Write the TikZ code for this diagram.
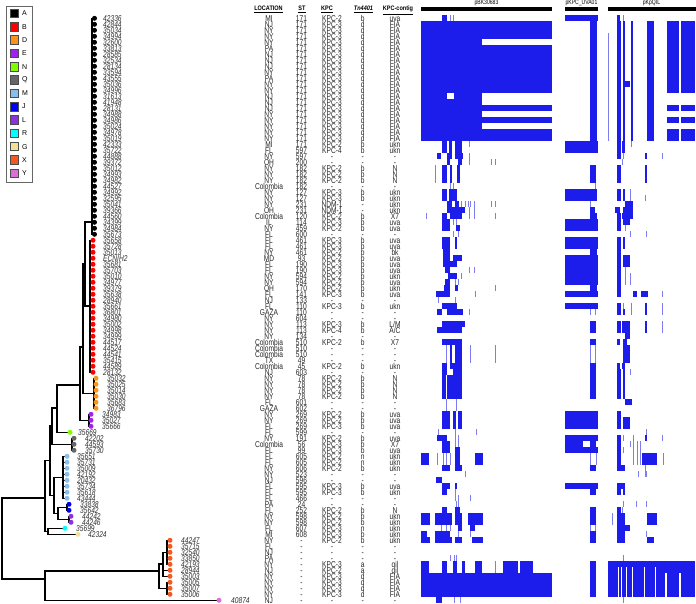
\documentclass[tikz,border=0pt]{standalone}
\usepackage{fontspec}
\newfontfamily\cnd[FakeStretch=0.78]{Liberation Sans}
\newfontfamily\cndh[FakeStretch=0.85]{Liberation Sans}
\newfontfamily\lsans{Liberation Sans}
\definecolor{cA}{RGB}{0,0,0}
\definecolor{cB}{RGB}{255,0,0}
\definecolor{cD}{RGB}{247,147,30}
\definecolor{cE}{RGB}{160,32,240}
\definecolor{cN}{RGB}{127,255,0}
\definecolor{cQ}{RGB}{102,102,102}
\definecolor{cM}{RGB}{135,190,235}
\definecolor{cJ}{RGB}{0,0,240}
\definecolor{cL}{RGB}{140,50,220}
\definecolor{cR}{RGB}{0,255,255}
\definecolor{cG}{RGB}{240,225,150}
\definecolor{cX}{RGB}{242,90,34}
\definecolor{cY}{RGB}{218,112,214}
\definecolor{hmc}{RGB}{28,28,235}
\definecolor{hmt}{RGB}{125,125,240}
\definecolor{tipgray}{RGB}{50,50,50}
\newcommand\sLM{L/M}
\newcommand\sAC{A/C}
\newcommand\hmb[4]{\fill[hmc] (#3,{6*#1+9.3}) rectangle (#4,{6*#2+15.3});}
\newcommand\hml[3]{\fill[hmt] ({#3-0.45},{6*#1+9.3}) rectangle ({#3+0.45},{6*#2+15.3});}
\newcommand\hmls[3]{\foreach \q in {#3}{\hml{#1}{#2}{\q}}}
\newcommand\tipgrp[5]{%
  \foreach \i/\lab in {#5}{\coordinate (c\i) at (#2,{12.3+6*\i}); \draw[br] (#1) |- (c\i);}
  \foreach \i/\lab in {#5}{\node[dot,fill=#4] (t\i) at (c\i) {}; \node[tiplab] (l\i) at (#3,{15.3+6*\i}) {\lab};}}
\begin{document}
\begin{tikzpicture}[x=1pt,y={(0pt,-1pt)},
  br/.style={line width=1.2pt,black},
  dot/.style={circle,inner sep=0pt,minimum size=5pt,draw=none},
  tiplab/.style={font=\cnd\itshape\fontsize{8.5}{8}\selectfont,text=tipgray,inner sep=0pt,anchor=base west},
  tc/.style={font=\cnd\fontsize{8.5}{8}\selectfont,text=black!85,inner sep=0pt,anchor=base},
  hd/.style={font=\cndh\bfseries\fontsize{6.5}{7}\selectfont,inner sep=0pt,anchor=base},
  ph/.style={font=\cnd\fontsize{6.5}{7}\selectfont,inner sep=0pt,anchor=base},
  bar/.style={line width=3.2pt,black},
  legsq/.style={draw=black!70,line width=0.7pt,minimum size=8.5pt,inner sep=0pt},
  legtx/.style={font=\lsans\fontsize{7}{7}\selectfont,inner sep=0pt,anchor=west}]
\useasboundingbox (0,0) rectangle (696,604);
\fill[white] (0,0) rectangle (696,604);

% ---------- legend ----------
\draw[black!60,line width=0.7pt] (6,6) rectangle (32,182);
\foreach \k/\c [count=\n from 0] in {A/cA,B/cB,D/cD,E/cE,N/cN,Q/cQ,M/cM,J/cJ,L/cL,R/cR,G/cG,X/cX,Y/cY}{
  \node[legsq,fill=\c] (lg\k) at (14.5,{13.3+13.33*\n}) {};
  \node[legtx] (lt\k) at (22,{13.3+13.33*\n}) {\k};}

% ---------- tree internal nodes ----------
\coordinate (nA) at (92,222);
\coordinate (nB) at (90,306);
\coordinate (nAB) at (85,264);
\coordinate (nD) at (94,393.3);
\coordinate (nABD) at (83,347);
\coordinate (nE) at (89,420.3);
\coordinate (nABDE) at (80,385);
\coordinate (nNA) at (57,408);
\coordinate (nQ) at (72,444.3);
\coordinate (nW) at (52,426);
\coordinate (nM) at (63,477.3);
\coordinate (nJ) at (67,507.3);
\coordinate (nL) at (69,519.3);
\coordinate (nJL) at (58,513.3);
\coordinate (nMJL) at (54,495.3);
\coordinate (nV) at (50,460.7);
\coordinate (nGR) at (48,531.3);
\coordinate (nU) at (45,498);
\coordinate (nXa) at (167,552.3);
\coordinate (nXb) at (163,564);
\coordinate (nXc) at (167,588.3);
\coordinate (nX) at (159,571);
\coordinate (nLow) at (45,579);
\coordinate (root) at (2,538);

\draw[br] (nAB) |- (nA);
\draw[br] (nAB) |- (nB);
\draw[br] (nABD) |- (nAB);
\draw[br] (nABD) |- (nD);
\draw[br] (nABDE) |- (nABD);
\draw[br] (nABDE) |- (nE);
\draw[br] (nNA) |- (nABDE);
\draw[br] (nW) |- (nNA);
\draw[br] (nW) |- (nQ);
\draw[br] (nJL) |- (nJ);
\draw[br] (nJL) |- (nL);
\draw[br] (nMJL) |- (nM);
\draw[br] (nMJL) |- (nJL);
\draw[br] (nV) |- (nW);
\draw[br] (nV) |- (nMJL);
\draw[br] (nU) |- (nV);
\draw[br] (nU) |- (nGR);
\draw[br] (nXb) |- (nXa);
\draw[br] (nX) |- (nXb);
\draw[br] (nX) |- (nXc);
\draw[br] (nLow) |- (nX);
\draw[br] (root) |- (nU);
\draw[br] (root) |- (nLow);

% ---------- tips ----------
\tipgrp{nA}{94.5}{103}{cA}{1/42336,2/42844,3/35034,4/34994,5/32600,6/33813,7/28585,8/32534,9/28134,10/33594,11/43555,12/35036,13/34996,14/31613,15/41948,16/28131,17/34988,18/34986,19/35024,20/34978,21/35019,22/42333,23/35722,24/44888,25/39372,26/35012,27/34993,28/34982,29/44527,30/34992,31/32595,32/35041,33/39366,34/44560,35/34399,36/34984,37/35673}
\tipgrp{nB}{93}{103}{cB}{38/35658,39/35728,40/35013,41/ECNIH2,42/35681,43/35703,44/35010,45/34977,46/39379,47/35638,48/28940,49/35661,50/36801,51/34980,52/35002,53/34998,54/34999,55/44517,56/44524,57/44541,58/35415,59/44589,60/28132}
\tipgrp{nD}{96}{107}{cD}{61/35032,62/35025,63/35014,64/35030,65/35683,66/36796}
\tipgrp{nE}{91}{102}{cE}{67/34983,68/35027,69/35666}
\tipgrp{nNA}{70}{78}{cN}{70/35669}
\tipgrp{nQ}{74}{85}{cQ}{71/42202,72/44593,73/35730}
\tipgrp{nM}{67}{77}{cM}{74/35651,75/35731,76/35009,77/42192,78/20432,79/35734,80/35618,81/43444}
\tipgrp{nJ}{69}{80}{cJ}{82/33838,83/35642}
\tipgrp{nL}{71}{82}{cL}{84/44242,85/44246}
\tipgrp{nGR}{65}{76}{cR}{86/35699}
\tipgrp{nGR}{78}{88}{cG}{87/42324}
\tipgrp{nXa}{170}{181}{cX}{88/44247,89/35715,90/32540,91/33850,92/42193}
\tipgrp{nXb}{170}{181}{cX}{93/28944,94/35003}
\tipgrp{nXc}{170}{181}{cX}{95/35005,96/35007,97/35006}
\tipgrp{nLow}{219}{231}{cY}{98/40874}

% ---------- table headers ----------
\node[hd] (hLoc) at (268.5,11) {\underline{LOCATION}};
\node[hd] (hST) at (302,11) {\underline{ST}};
\node[hd] (hKPC) at (327,11) {\underline{KPC}};
\node[hd] (hTn) at (363.5,11) {\underline{\itshape Tn4401}};
\node[hd] (hCt) at (398,11) {\underline{KPC-contig}};

% ---------- table rows ----------
\foreach \i/\vlc/\vst/\vkp/\vtn/\vct in {
1/MI/171/KPC-2/b/uva,2/NJ/171/KPC-3/d/FIA,3/NY/171/KPC-3/d/FIA,4/NY/171/KPC-3/d/FIA,5/NY/171/KPC-3/d/FIA,
6/PA/171/KPC-3/d/FIA,7/NJ/171/KPC-3/d/FIA,8/NJ/171/KPC-3/d/FIA,9/NJ/171/KPC-3/d/FIA,10/NY/171/KPC-3/d/FIA,
11/PA/171/KPC-3/d/FIA,12/NY/171/KPC-3/d/FIA,13/NY/171/KPC-3/d/FIA,14/NJ/171/KPC-3/d/FIA,15/NJ/171/KPC-3/d/FIA,
16/NJ/171/KPC-3/d/FIA,17/NY/171/KPC-3/d/FIA,18/NY/171/KPC-3/d/FIA,19/NY/171/KPC-3/d/FIA,20/NY/171/KPC-3/d/FIA,
21/NY/171/KPC-3/d/FIA,22/MI/171/KPC-2/b/ukn,23/FL/597/KPC-4/b/ukn,24/NY/597/-/-/-,25/OH/200/-/-/-,
26/NY/182/KPC-2/b/N,27/NY/182/KPC-2/b/N,28/NY/182/KPC-2/b/N,29/Colombia/182/-/-/-,30/NY/127/KPC-3/b/ukn,
31/NY/127/KPC-3/b/ukn,32/NY/231/NDM-1/-/ukn,33/OH/231/NDM-1/-/ukn,34/Colombia/120/KPC-2/b/X7,35/IL/114/KPC-3/b/uva,
36/NY/459/KPC-2/b/uva,37/FL/600/-/-/-,38/FL/461/KPC-3/b/uva,39/FL/461/KPC-3/b/uva,40/NY/461/KPC-2/b/bk,
41/MD/93/KPC-2/b/uva,42/FL/190/KPC-3/b/uva,43/FL/190/KPC-3/b/uva,44/NY/594/KPC-2/b/ukn,45/NY/594/KPC-2/b/uva,
46/OH/170/KPC-2/b/ukn,47/FL/141/KPC-3/b/uva,48/NJ/133/-/-/-,49/FL/110/KPC-3/b/ukn,50/GAZA/110/-/-/-,
51/NY/604/-/-/-,52/NY/113/KPC-3/b/\sLM,53/NY/113/KPC-4/b/\sAC,54/NY/134/-/-/-,55/Colombia/510/KPC-2/b/X7,
56/Colombia/510/-/-/-,57/Colombia/510/-/-/-,58/TX/49/-/-/-,59/Colombia/45/KPC-2/b/ukn,60/NJ/603/-/-/-,
61/NY/78/KPC-2/b/N,62/NY/78/KPC-2/b/N,63/NY/78/KPC-2/b/N,64/NY/78/KPC-2/b/N,65/FL/601/-/-/-,
66/GAZA/602/-/-/-,67/NY/269/KPC-2/b/uva,68/NY/269/KPC-2/b/uva,69/FL/269/KPC-3/b/uva,70/FL/599/-/-/-,
71/NY/191/KPC-2/b/uva,72/Colombia/56/KPC-3/b/X7,73/FL/99/KPC-3/b/uva,74/FL/605/KPC-2/n/ukn,75/FL/605/KPC-2/n/ukn,
76/NY/606/KPC-2/b/ukn,77/NY/523/-/-/-,78/NJ/596/-/-/-,79/FL/595/KPC-3/b/uva,80/FL/595/KPC-3/b/ukn,
81/FL/466/-/-/-,82/PA/24/-/-/-,83/FL/252/KPC-2/b/N,84/NY/598/KPC-2/b/ukn,85/NY/598/KPC-2/b/ukn,
86/FL/607/KPC-3/n/ukn,87/MI/608/KPC-3/b/ukn,88/NY/-/KPC-2/b/ukn,89/FL/-/-/-/-,90/NJ/-/-/-/-,
91/PA/-/-/-/-,92/NY/-/KPC-3/a/qil,93/NJ/-/KPC-2/a/qil,94/NY/-/KPC-3/d/FIA,95/NY/-/KPC-3/d/FIA,
96/NY/-/KPC-3/d/FIA,97/NY/-/KPC-3/d/FIA,98/NJ/-/-/-/-}{
  \node[tc] (lo\i) at (269,{15.3+6*\i}) {\vlc};
  \node[tc] (st\i) at (301.5,{15.3+6*\i}) {\vst};
  \node[tc] (kp\i) at (332,{15.3+6*\i}) {\vkp};
  \node[tc] (tn\i) at (362.7,{15.3+6*\i}) {\vtn};
  \node[tc] (ct\i) at (395,{15.3+6*\i}) {\vct};
}

% ---------- heatmap headers ----------
\node[ph] (hBK) at (486.5,4.8) {pBK30683};
\node[ph] (hUVA) at (581.5,4.8) {pKPC\_UVA01};
\node[ph] (hQIL) at (651.5,4.8) {pKpQIL};
\coordinate (bk1) at (421,9); \coordinate (bk2) at (552,9);
\coordinate (uv1) at (565,9); \coordinate (uv2) at (598.3,9);
\coordinate (ql1) at (608,9); \coordinate (ql2) at (695.5,9);
\draw[bar] (bk1) -- (bk2);
\draw[bar] (uv1) -- (uv2);
\draw[bar] (ql1) -- (ql2);

% ---------- heatmap ----------
% row 1
\hmb{1}{1}{441.7}{446.7}\hmls{1}{1}{450,453.3}
\hmb{1}{1}{565}{598.3}
\hmb{1}{1}{616.7}{620}\hml{1}{1}{623.3}
% rows 2-21
\hmb{2}{21}{421}{482.3}
\foreach \a/\b in {2/4,6/13,16/16,18/18,20/21}{\hmb{\a}{\b}{482.3}{551.7}}
\fill[white] (446.7,{6*14+9.3}) rectangle (454,{6*14+15.3});
\hmb{2}{21}{590}{597}
\hml{4}{21}{608.5}
\hmb{2}{21}{616.7}{620.7}\hmb{2}{21}{623.3}{625}\hmb{2}{21}{631}{632.7}\hmb{2}{21}{646.7}{654}
\hmb{12}{12}{623.3}{630}
\foreach \a/\b in {2/13,16/16,18/18,20/21}{\hmb{\a}{\b}{666.7}{679}\hmb{\a}{\b}{681}{695}}
% rows 22-23
\hmb{22}{23}{441.7}{446.7}\hmb{22}{23}{449.3}{451.7}\hmb{22}{23}{455}{461.7}\hml{22}{22}{469.3}
\hmb{22}{23}{565}{598.3}
\hmb{22}{23}{616.7}{620.7}\hmb{22}{23}{621.7}{625}\hml{22}{22}{631.7}
% row 24
\hmb{24}{24}{437.3}{440.7}\hmb{24}{24}{446.7}{451.7}\hmb{24}{24}{455}{463.3}\hml{24}{24}{469.3}
\hmb{24}{24}{616.7}{620.7}\hml{24}{24}{623.3}\hmb{24}{24}{645}{647.3}\hml{24}{24}{662.7}
% row 25
\hmb{25}{25}{446.7}{450}\hmb{25}{25}{458.3}{461.7}\hmls{25}{25}{469.3,491.7,495,622}
% rows 26-28
\hmb{26}{28}{441.7}{446.7}\hmb{26}{28}{450}{451.7}\hmb{26}{28}{456.7}{460}\hml{26}{28}{435}
\hmb{26}{28}{590}{595.7}
\hmb{26}{28}{616.7}{620.7}\hmb{26}{28}{645}{646.7}
% row 29
\hmls{29}{29}{450,453.3,595}
% rows 30-31
\hmb{30}{31}{441.7}{446.7}\hmb{30}{31}{449.3}{456.7}
\hmb{30}{31}{565}{597}
\hmb{30}{31}{616.7}{620.7}\hmb{30}{31}{623.3}{625}\hml{30}{31}{630}\hml{31}{31}{645}
% row 32
\hmb{32}{32}{446.7}{452}\hmb{32}{32}{455}{459}\hmls{32}{32}{461.7,465,468.3,470,474,491.7,495,590}
\hmb{32}{32}{625}{632.7}
% row 33
\hmb{33}{33}{446.7}{465}\hmls{33}{33}{469.3,474}\hmb{33}{33}{590}{595}
\hmb{33}{33}{615}{620}\hmb{33}{33}{623.3}{632.7}
% row 34
\hmls{34}{34}{426,469.3,474,495}\hmb{34}{34}{441.7}{446.7}\hmb{34}{34}{450}{461.7}
\hmb{34}{34}{590}{596.7}
\hmb{34}{34}{616.7}{620.7}\hmb{34}{34}{621.7}{632.7}
% rows 35-36
\hmb{35}{36}{441.7}{450}\hmls{35}{35}{453.3,456.7}\hmb{36}{36}{456}{460}
\hmb{35}{36}{565}{598.3}
\hmb{35}{36}{616.7}{620.7}\hmb{35}{35}{622.7}{630}\hml{36}{36}{625}
% row 37
\hmls{37}{37}{453.3,458.3,630,646}
% rows 38-47
\hmb{38}{39}{441.7}{450}\hmb{38}{39}{455}{457}
\hmb{40}{40}{443.3}{450}
\hmb{41}{41}{443.3}{450}\hmb{41}{41}{453.3}{461.7}
\hmb{42}{42}{443.3}{456.7}
\hmb{43}{43}{445}{450}\hmls{43}{43}{469.3,474}
\hmb{44}{44}{448.3}{456.7}\hml{44}{44}{461.7}
\hmb{45}{45}{445}{450}\hmls{45}{45}{455,458.3}
\hmb{46}{46}{444.3}{450}\hmb{46}{46}{455}{458.3}\hml{46}{46}{495}
\hmb{47}{47}{436}{450}\hml{47}{47}{475}
\hmb{38}{39}{565}{598.3}\hmb{40}{40}{590}{596.7}\hmb{41}{45}{565}{598.3}\hmb{46}{46}{590}{596.7}\hmb{47}{47}{565}{598.3}
\hmb{38}{47}{616.7}{620.7}\hmb{38}{39}{622.7}{625}\hmb{41}{42}{622.7}{630}\hml{43}{45}{625}\hml{44}{45}{630}
\hmb{47}{47}{633.3}{637.3}\hmb{47}{47}{641}{647.7}\hml{47}{47}{662.7}
% row 48
\hmls{48}{48}{438.3,455}
% row 49
\hmb{49}{49}{441.7}{457}\hmb{49}{49}{565}{598.3}
\hmb{49}{49}{616.7}{620.7}\hmls{49}{49}{623.3,631.7,662.7}\hmb{49}{49}{645}{647}
% row 50
\hmb{50}{50}{437.3}{441.7}\hmb{50}{50}{446.7}{463.3}\hmls{50}{50}{469.3,590,595,631.7,662.7}
\hmb{50}{50}{616.7}{620.7}\hmb{50}{50}{623.3}{625}\hmb{50}{50}{645}{647}
% rows 52-53
\hmb{52}{52}{441.7}{465}\hmb{53}{53}{437.3}{461.7}\hmb{52}{53}{590}{595.7}
\hmb{52}{53}{616.7}{620.7}\hmb{52}{53}{621.7}{630}\hmb{52}{53}{645}{646.7}\hml{52}{53}{662.7}
% row 54
\hmb{54}{54}{625}{630}
% row 55
\hmb{55}{55}{441.7}{461.7}\hmb{55}{55}{590}{595.7}\hmb{55}{55}{616.7}{620}\hmb{55}{55}{623.3}{626.7}
% rows 56-58
\hml{56}{58}{446.7}\hmb{56}{58}{450}{452}\hmb{56}{58}{455}{461.7}\hmls{56}{58}{470,495,590,595}
\hmb{56}{58}{623.3}{630}
% row 59
\hmb{59}{59}{441.7}{446.7}\hmb{59}{59}{450}{461.7}\hmb{59}{59}{590}{595.7}\hmb{59}{59}{616.7}{620}\hmb{59}{59}{621.7}{625}
% row 60
\hmb{60}{60}{441.7}{446.7}\hmb{60}{60}{453.3}{461.7}\hmb{60}{60}{590}{595.7}\hmb{60}{60}{616.7}{620.7}\hmb{60}{60}{623.3}{625.3}\hml{60}{60}{630}
% rows 61-64
\hmb{61}{64}{441.7}{446}\hmb{61}{64}{447.3}{461.7}\hmb{61}{64}{590}{595.7}\hmb{61}{64}{616.7}{620.7}\hmb{61}{64}{623.3}{625.3}
% rows 65-66
\hmls{65}{66}{446.7,456}\hmb{65}{65}{625}{631.7}
% rows 67-69
\hmb{67}{69}{441.7}{450}\hmb{67}{69}{453.3}{456}\hmb{67}{69}{458.3}{461.7}\hmb{67}{69}{565}{598.3}
\hmb{67}{69}{616.7}{620.7}\hmb{68}{69}{622.7}{630}
% row 70
\hmls{70}{70}{438.3,455,476,646}
% row 71
\hmb{71}{71}{437.3}{446.7}\hmls{71}{71}{455,458.3,623.3,633.3,662.7}\hmb{71}{71}{565}{598.3}
\hmb{71}{71}{616.7}{620.7}\hmb{71}{71}{645}{647.3}
% row 72
\hmb{72}{72}{441.7}{450}\hmls{72}{72}{455,458.3,630,633.3,637.3,640}\hmb{72}{72}{565}{583}\hmb{72}{72}{590}{596}
\hmb{72}{72}{616.7}{620.7}
% row 73
\hmb{73}{73}{441.7}{450}\hmb{73}{73}{455}{460}\hmb{73}{73}{565}{598.3}
\hmb{73}{73}{616.7}{620.7}\hmls{73}{73}{623.3,633.3,637.3,640}
% rows 74-75
\hmb{74}{75}{421}{429}\hmls{74}{75}{437.3,443.3,446.7,450,590,596,633.3,637.3,640,663.3}\hmb{74}{75}{455}{460}\hmb{74}{75}{475}{482.7}
\hmb{74}{75}{616.7}{620.7}\hmb{74}{75}{641.7}{656.7}
% row 76
\hmb{76}{76}{441.7}{450}\hmb{76}{76}{455}{461.7}\hmb{76}{76}{590}{595.7}\hmb{76}{76}{616.7}{625}\hml{76}{76}{645}
% row 77
\hmls{77}{77}{465,638.3,645,646.7}
% row 78
\hmb{78}{78}{436}{441.7}
% row 79
\hmb{79}{79}{441.7}{450}\hmb{79}{79}{455}{456.7}\hmb{79}{79}{565}{598.3}\hmb{79}{79}{616.7}{625}
% row 80
\hmb{80}{80}{441.7}{446.7}\hml{80}{80}{455}\hmb{80}{80}{590}{595.7}\hmb{80}{80}{616.7}{620.7}\hmb{80}{80}{622.7}{625}
% row 81
\hmls{81}{81}{455,458.3,470}
% row 82
\hmls{82}{82}{456,458.3,623.3,636.7,646}
% row 83
\hmb{83}{83}{441.7}{446.7}\hmb{83}{83}{455}{460}\hmb{83}{83}{590}{595.7}\hmb{83}{83}{616.7}{620.7}\hml{83}{83}{622.7}
% rows 84-85
\hmb{84}{85}{421}{430}\hmb{84}{85}{435}{451.7}\hmb{84}{85}{455}{461.7}\hmb{84}{85}{468.3}{482.7}
\hmb{84}{85}{590}{595.7}\hmb{84}{85}{616.7}{625}\hmb{84}{85}{646.7}{656.7}\hml{84}{85}{612.3}
% row 86
\hmls{86}{86}{441.7,446.7,450,590,595}\hmb{86}{86}{458.3}{461.7}\hmb{86}{86}{470}{475}\hmb{86}{86}{616.7}{630}
% row 87
\hmb{87}{87}{421}{426.7}\hmb{87}{87}{435}{450}\hmls{87}{87}{458.3,470,646}\hmb{87}{87}{590}{595.7}\hmb{87}{87}{616.7}{625}
% row 88
\hmb{88}{88}{421}{430}\hmb{88}{88}{435}{451.7}\hmb{88}{88}{455}{461.7}\hmb{88}{88}{471.7}{482.7}
\hmb{88}{88}{590}{595.7}\hmb{88}{88}{616.7}{625}\hmb{88}{88}{646.7}{654}
% rows 89-91
\hmls{91}{91}{450,454.3,456.7,623}
% rows 92-93
\hmb{92}{93}{421}{429}\hmb{92}{93}{441.7}{446.7}\hmb{92}{93}{453.3}{456.7}\hmb{92}{93}{461.7}{465}
\hmb{92}{93}{475}{481.7}\hml{92}{93}{495}\hmb{92}{93}{502.7}{518.3}\hmb{92}{93}{520}{533.3}
\hmb{92}{93}{590}{595.7}\hmb{92}{93}{608.3}{695}
% rows 94-97
\hmb{94}{97}{421}{551.7}\hmb{94}{97}{590}{595.7}
\hmb{94}{97}{608.3}{665}\hmb{94}{97}{666.7}{679}\hmb{94}{97}{681}{695}
\foreach \w in {618.3,621.7,626.7,632.7,644.3,655}{\fill[white] ({\w-0.5},{6*93+9.3}) rectangle ({\w+0.5},{6*97+15.3});}
% row 98
\hmb{98}{98}{436}{441.7}\hmls{98}{98}{454.3,460,623.3}
\end{tikzpicture}
\end{document}
